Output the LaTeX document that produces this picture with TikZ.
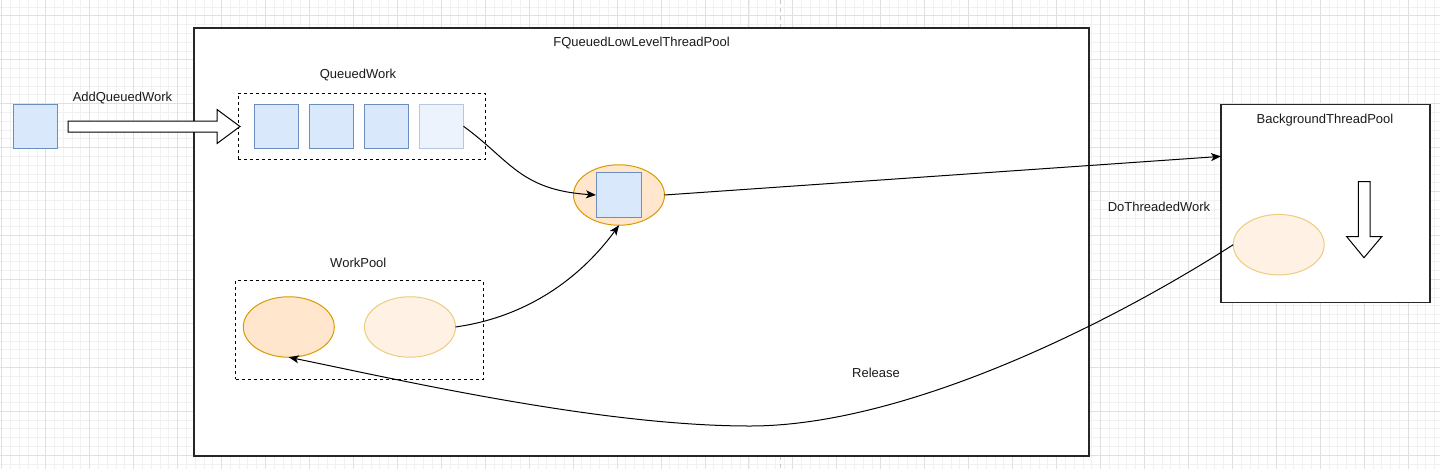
\documentclass[tikz,border=0pt]{standalone}
\usepackage{fontspec}
\setmainfont{Liberation Sans}
\usetikzlibrary{arrows.meta,calc,shapes.geometric}
\definecolor{bluefill}{HTML}{DAE8FC}
\definecolor{bluedraw}{HTML}{6C8EBF}
\definecolor{bluefillL}{HTML}{ECF3FD}
\definecolor{bluedrawL}{HTML}{B6C7DF}
\definecolor{orfill}{HTML}{FFE6CC}
\definecolor{ordraw}{HTML}{D79B00}
\definecolor{orfillL}{HTML}{FFF2E5}
\definecolor{ordrawL}{HTML}{EBCD7F}
\definecolor{gridmaj}{HTML}{E0E0E0}
\definecolor{gridmin}{HTML}{F1F1F1}
\definecolor{txt}{HTML}{1A1A1A}
\begin{document}
\begin{tikzpicture}[x=1pt,y=-1pt,
 every node/.style={inner sep=0pt, outer sep=0pt},
 lbl/.style={text=txt, font=\fontsize{13}{15}\selectfont},
 sq/.style={draw=bluedraw, fill=bluefill, line width=1pt, minimum width=44pt, minimum height=44pt},
 sqlight/.style={sq, draw=bluedrawL, fill=bluefillL},
 job/.style={ellipse, draw=ordraw, fill=orfill, line width=1pt, minimum width=91pt, minimum height=60.5pt},
 joblight/.style={job, draw=ordrawL, fill=orfillL},
 frame/.style={draw=black!85, line width=1.1pt, fill=white},
 dbox/.style={draw=black, line width=1pt, dash pattern=on 3pt off 3pt},
 hollow/.style={draw=black, line width=1pt, fill=white, line join=miter},
 conn/.style={draw=black, line width=1pt, -{Stealth[length=10pt,width=8pt,inset=2.5pt]}}
]
\useasboundingbox (0,0) rectangle (1440,469);
\fill[white] (0,0) rectangle (1440,469);
% grid
\foreach \k in {0,...,164} \draw[gridmin, line width=0.7pt] ({1.7+8.79*\k},0) -- ++(0,469);
\foreach \k in {-2,...,52} \draw[gridmin, line width=0.7pt] (0,{15.7+8.79*\k}) -- ++(1440,0);
\foreach \k in {0,...,32} \draw[gridmaj, line width=0.8pt] ({1.7+43.95*\k},0) -- ++(0,469);
\foreach \k in {0,...,10} \draw[gridmaj, line width=0.8pt] (0,{15.7+43.95*\k}) -- ++(1440,0);
\draw[gray!45, line width=0.8pt, dash pattern=on 4pt off 4pt] (780,0) -- (780,469);

% frames
\node[frame, minimum width=895pt, minimum height=428pt] (main) at (641.5,242) {};
\node[lbl] (mainlbl) at (641.5,43) {FQueuedLowLevelThreadPool};
\node[frame, minimum width=209pt, minimum height=198pt] (bg) at (1325.5,203.3) {};
\node[lbl] (bglbl) at (1325,120) {BackgroundThreadPool};

% queued work
\node[dbox, minimum width=247.5pt, minimum height=66pt] (qbox) at (362,126.3) {};
\node[lbl] (qlbl) at (358,75) {QueuedWork};
\node[sq] (q1) at (276.7,126.3) {};
\node[sq] (q2) at (331.5,126.3) {};
\node[sq] (q3) at (386.5,126.3) {};
\node[sqlight] (q4) at (441.5,126.3) {};

% incoming work
\node[sq] (inw) at (35.5,126.2) {};
\node[lbl] (addlbl) at (122.5,98) {AddQueuedWork};
\draw[hollow] (68,121) -- (217,121) -- (217,109.5) -- (240,126.5) -- (217,143.5) -- (217,132) -- (68,132) -- cycle;

% work pool
\node[dbox, minimum width=247.5pt, minimum height=98.5pt] (wbox) at (359.5,329.8) {};
\node[lbl] (wlbl) at (358.3,263) {WorkPool};
\node[job] (wp1) at (288.8,327) {};
\node[joblight] (wp2) at (410,327) {};

% central worker
\node[job] (ce) at (619,195) {};
\node[sq, minimum width=45pt, minimum height=45pt] (cs) at (618.5,195) {};

% background worker
\node[joblight] (bge) at (1278.7,244.7) {};
\node[lbl] (dolbl) at (1159,207) {DoThreadedWork};
\draw[hollow] (1358.3,181.7) -- (1370,181.7) -- (1370,236.7) -- (1381.7,236.7) -- (1364,257.7) -- (1346.7,236.7) -- (1358.3,236.7) -- cycle;

% connectors
\coordinate (bgin) at ($(bg.north west)!0.263!(bg.south west)$);
\draw[conn] (q4.east) .. controls (510,160) and (520,190) .. (cs.west);
\draw[conn] (ce.east) -- (bgin);
\draw[conn] (wp2.east) .. controls (540,315) and (590,265) .. (ce.south);
\draw[conn] (bge.west) .. controls (1100,330) and (900,426) .. (750,426) .. controls (600,426) and (400,380) .. (wp1.south);
\node[lbl] (rellbl) at (876,373) {Release};
\end{tikzpicture}
\end{document}
